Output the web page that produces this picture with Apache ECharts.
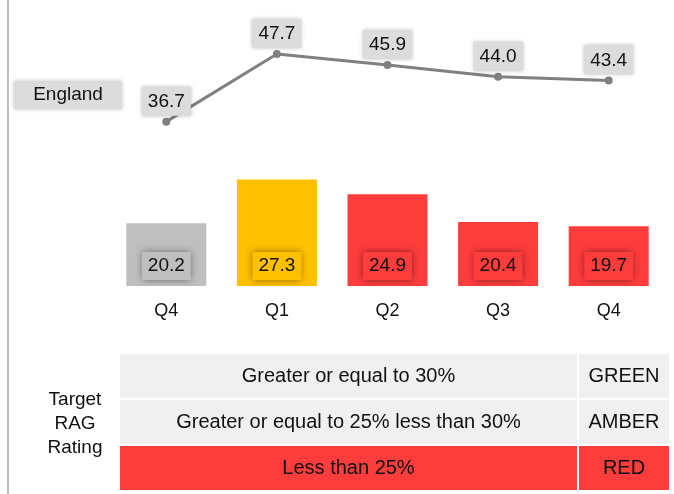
<!DOCTYPE html>
<html>
<head>
<meta charset="utf-8">
<script src="https://cdn.jsdelivr.net/npm/echarts@6/dist/echarts.min.js"></script>
<style>html,body{margin:0;padding:0;background:#fff}#c{width:674px;height:494px}</style>
</head>
<body>
<div id="c"></div>
<script>
const categories = ['Q4', 'Q1', 'Q2', 'Q3', 'Q4'];
const localValues = [20.2, 27.3, 24.9, 20.4, 19.7];
const englandValues = [36.7, 47.7, 45.9, 44.0, 43.4];
const barColors = ['#bfbfbf', '#ffc000', '#fd3c3c', '#fd3c3c', '#fd3c3c'];
const tableDescriptions = ['Greater or equal to 30%', 'Greater or equal to 25% less than 30%', 'Less than 25%'];
const tableRatings = ['GREEN', 'AMBER', 'RED'];
const tableColors = ['#f0f0f0', '#f0f0f0', '#fd3c3c'];

const FONT = 'Arial, "Liberation Sans", sans-serif';
const chart = echarts.init(document.getElementById('c'), null, {renderer: 'canvas'});

const graphics = [];
// left vertical rule
graphics.push({type: 'rect', shape: {x: 7, y: 0, width: 2, height: 494}, style: {fill: '#bfbfbf'}, silent: true});
// England legend box
graphics.push({
  type: 'rect', shape: {x: 14, y: 81, width: 108, height: 28},
  style: {fill: '#dcdcdc', shadowBlur: 4, shadowColor: 'rgba(0,0,0,0.25)'}
});
graphics.push({
  type: 'text', x: 68, y: 95,
  style: {text: 'England', font: '19px ' + FONT, fill: '#111', align: 'center', verticalAlign: 'middle'}
});
// table
const tLeft = 120, divX = 577, divW = 2, tRight = 669;
const rowTops = [354, 400, 446];
const rowH = 44;
tableDescriptions.forEach((d, i) => {
  const y = rowTops[i];
  graphics.push({type: 'rect', shape: {x: tLeft, y: y, width: divX - tLeft, height: rowH}, style: {fill: tableColors[i]}});
  graphics.push({type: 'rect', shape: {x: divX + divW, y: y, width: tRight - divX - divW, height: rowH}, style: {fill: tableColors[i]}});
  graphics.push({type: 'text', x: (tLeft + divX) / 2, y: y + rowH / 2,
    style: {text: d, font: '20px ' + FONT, fill: '#111', align: 'center', verticalAlign: 'middle'}});
  graphics.push({type: 'text', x: (divX + divW + tRight) / 2, y: y + rowH / 2,
    style: {text: tableRatings[i], font: '20px ' + FONT, fill: '#111', align: 'center', verticalAlign: 'middle'}});
});
graphics.push({type: 'text', x: 75, y: 424,
  style: {text: 'Target\nRAG\nRating', font: '19px ' + FONT, fill: '#111', align: 'center', verticalAlign: 'middle', lineHeight: 24}});

chart.setOption({
  animation: false,
  backgroundColor: '#fff',
  grid: {left: 111, right: 10, top: 9, bottom: 208},
  xAxis: {
    type: 'category', data: categories,
    axisLine: {show: false}, axisTick: {show: false},
    axisLabel: {fontSize: 18, fontFamily: FONT, color: '#111', margin: 16}
  },
  yAxis: {
    type: 'value', min: 10, max: 55, show: false, splitLine: {show: false}
  },
  series: [
    {
      type: 'bar', barWidth: 80,
      data: localValues.map((v, i) => ({
        value: v,
        itemStyle: {color: barColors[i]},
        label: {backgroundColor: barColors[i]}
      })),
      label: {
        show: true, position: 'insideBottom', distance: 6,
        fontSize: 19, fontFamily: FONT, color: '#111', lineHeight: 20,
        padding: [4, 6, 4, 6],
        shadowBlur: 7, shadowColor: 'rgba(0,0,0,0.45)',
        formatter: p => p.value.toFixed(1)
      }
    },
    {
      type: 'line', data: englandValues,
      lineStyle: {color: '#808080', width: 3},
      itemStyle: {color: '#808080'},
      symbol: 'circle', symbolSize: 8,
      label: {
        show: true, position: 'top', distance: 2,
        fontSize: 19, fontFamily: FONT, color: '#111', lineHeight: 20,
        backgroundColor: '#dcdcdc', padding: [5, 6, 4, 6],
        shadowBlur: 4, shadowColor: 'rgba(0,0,0,0.25)',
        formatter: p => p.value.toFixed(1)
      }
    }
  ],
  graphic: graphics
});
</script>
</body>
</html>
